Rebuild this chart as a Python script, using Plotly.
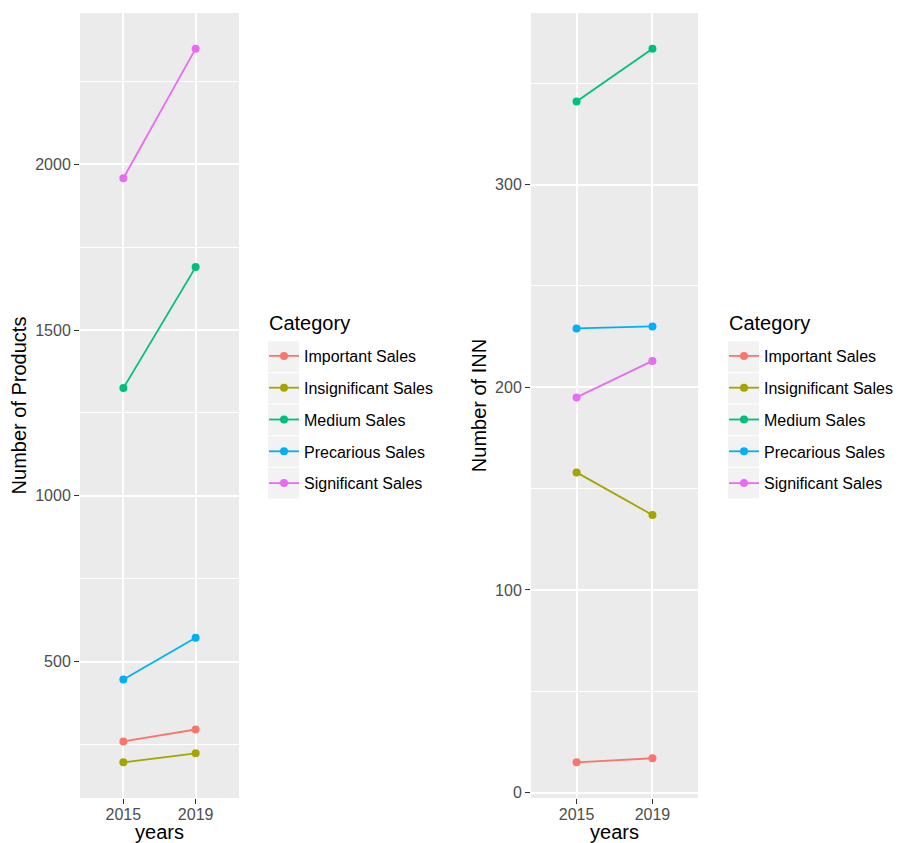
import plotly.graph_objects as go

# Data
years = ["2015", "2019"]
categories = ["Important Sales", "Insignificant Sales", "Medium Sales",
              "Precarious Sales", "Significant Sales"]
colors = ["#F8766D", "#A3A500", "#00BF7D", "#00B0F6", "#E76BF3"]

products_important = [259, 295]
products_insignificant = [196, 223]
products_medium = [1325, 1690]
products_precarious = [446, 572]
products_significant = [1958, 2349]

inn_important = [15, 17]
inn_insignificant = [158, 137]
inn_medium = [341, 367]
inn_precarious = [229, 230]
inn_significant = [195, 213]

products = [products_important, products_insignificant, products_medium,
            products_precarious, products_significant]
inn = [inn_important, inn_insignificant, inn_medium, inn_precarious, inn_significant]

W, H = 901, 843
FONT = "Liberation Sans, Arial, sans-serif"
PANEL = "#EBEBEB"


def px_x(v):
    return v / W


def px_y(v):
    return 1 - v / H


def padded(series):
    vals = [v for s in series for v in s]
    lo, hi = min(vals), max(vals)
    pad = 0.05 * (hi - lo)
    return [lo - pad, hi + pad]


fig = go.Figure()

for i, (name, col) in enumerate(zip(categories, colors)):
    fig.add_trace(go.Scatter(
        x=years, y=products[i], name=name, mode="lines+markers",
        line=dict(color=col, width=1.8), marker=dict(color=col, size=8),
        xaxis="x", yaxis="y", legend="legend", legendgroup="p" + str(i),
    ))
for i, (name, col) in enumerate(zip(categories, colors)):
    fig.add_trace(go.Scatter(
        x=years, y=inn[i], name=name, mode="lines+markers",
        line=dict(color=col, width=1.8), marker=dict(color=col, size=8),
        xaxis="x2", yaxis="y2", legend="legend2", legendgroup="n" + str(i),
    ))

y_dom = [px_y(798), px_y(13)]

xcommon = dict(
    type="category", range=[-0.6, 1.6], showgrid=True, gridcolor="white",
    gridwidth=2, zeroline=False, showline=False, ticks="outside", ticklen=5,
    tickwidth=1.2, tickcolor="#333333", ticklabelstandoff=-3,
    tickfont=dict(family=FONT, size=16, color="#4D4D4D"),
    title=dict(text="years", font=dict(family=FONT, size=20, color="black"), standoff=12),
    automargin=False,
)
ycommon = dict(
    showgrid=True, gridcolor="white", gridwidth=2, zeroline=False, showline=False,
    ticks="outside", ticklen=5, tickwidth=1.2, tickcolor="#333333",
    tickfont=dict(family=FONT, size=16, color="#4D4D4D"),
    automargin=False,
)

fig.update_layout(
    width=W, height=H,
    margin=dict(l=0, r=0, t=0, b=0),
    paper_bgcolor="white", plot_bgcolor=PANEL,
    font=dict(family=FONT),
    showlegend=True,
    xaxis=dict(domain=[px_x(80), px_x(239)], anchor="y", **xcommon),
    yaxis=dict(domain=y_dom, anchor="x", range=padded(products), dtick=500,
               minor=dict(dtick=250, showgrid=True, gridcolor="white", gridwidth=1),
               title=dict(text="Number of Products",
                          font=dict(family=FONT, size=20, color="black"), standoff=3),
               **ycommon),
    xaxis2=dict(domain=[px_x(531), px_x(698)], anchor="y2", **xcommon),
    yaxis2=dict(domain=y_dom, anchor="x2", range=padded(inn), dtick=100,
                minor=dict(dtick=50, showgrid=True, gridcolor="white", gridwidth=1),
                title=dict(text="Number of INN",
                           font=dict(family=FONT, size=20, color="black"), standoff=3),
                **ycommon),
)

legend_common = dict(
    bgcolor="rgba(0,0,0,0)", borderwidth=0, xanchor="left", yanchor="top",
    traceorder="grouped", tracegroupgap=8, itemwidth=30,
    font=dict(family=FONT, size=16, color="black"),
    itemclick=False, itemdoubleclick=False,
)
fig.update_layout(
    legend=dict(x=px_x(264), y=px_y(339), **legend_common),
    legend2=dict(x=px_x(724), y=px_y(339), **legend_common),
)

# Legend titles and key backgrounds
key_top = 341.5
key_step = 31.6
for kx in (268, 728):
    fig.add_annotation(text="Category", xref="paper", yref="paper",
                       x=px_x(kx - 1), y=px_y(310), xanchor="left", yanchor="top",
                       showarrow=False, font=dict(family=FONT, size=20, color="black"))
    for i in range(len(categories)):
        y0 = key_top + i * key_step
        fig.add_shape(type="rect", xref="paper", yref="paper",
                      x0=px_x(kx), x1=px_x(kx + 31), y0=px_y(y0 + 30.5), y1=px_y(y0),
                      fillcolor="#F2F2F2", line=dict(width=0), layer="below")

fig.write_html("out.html")
